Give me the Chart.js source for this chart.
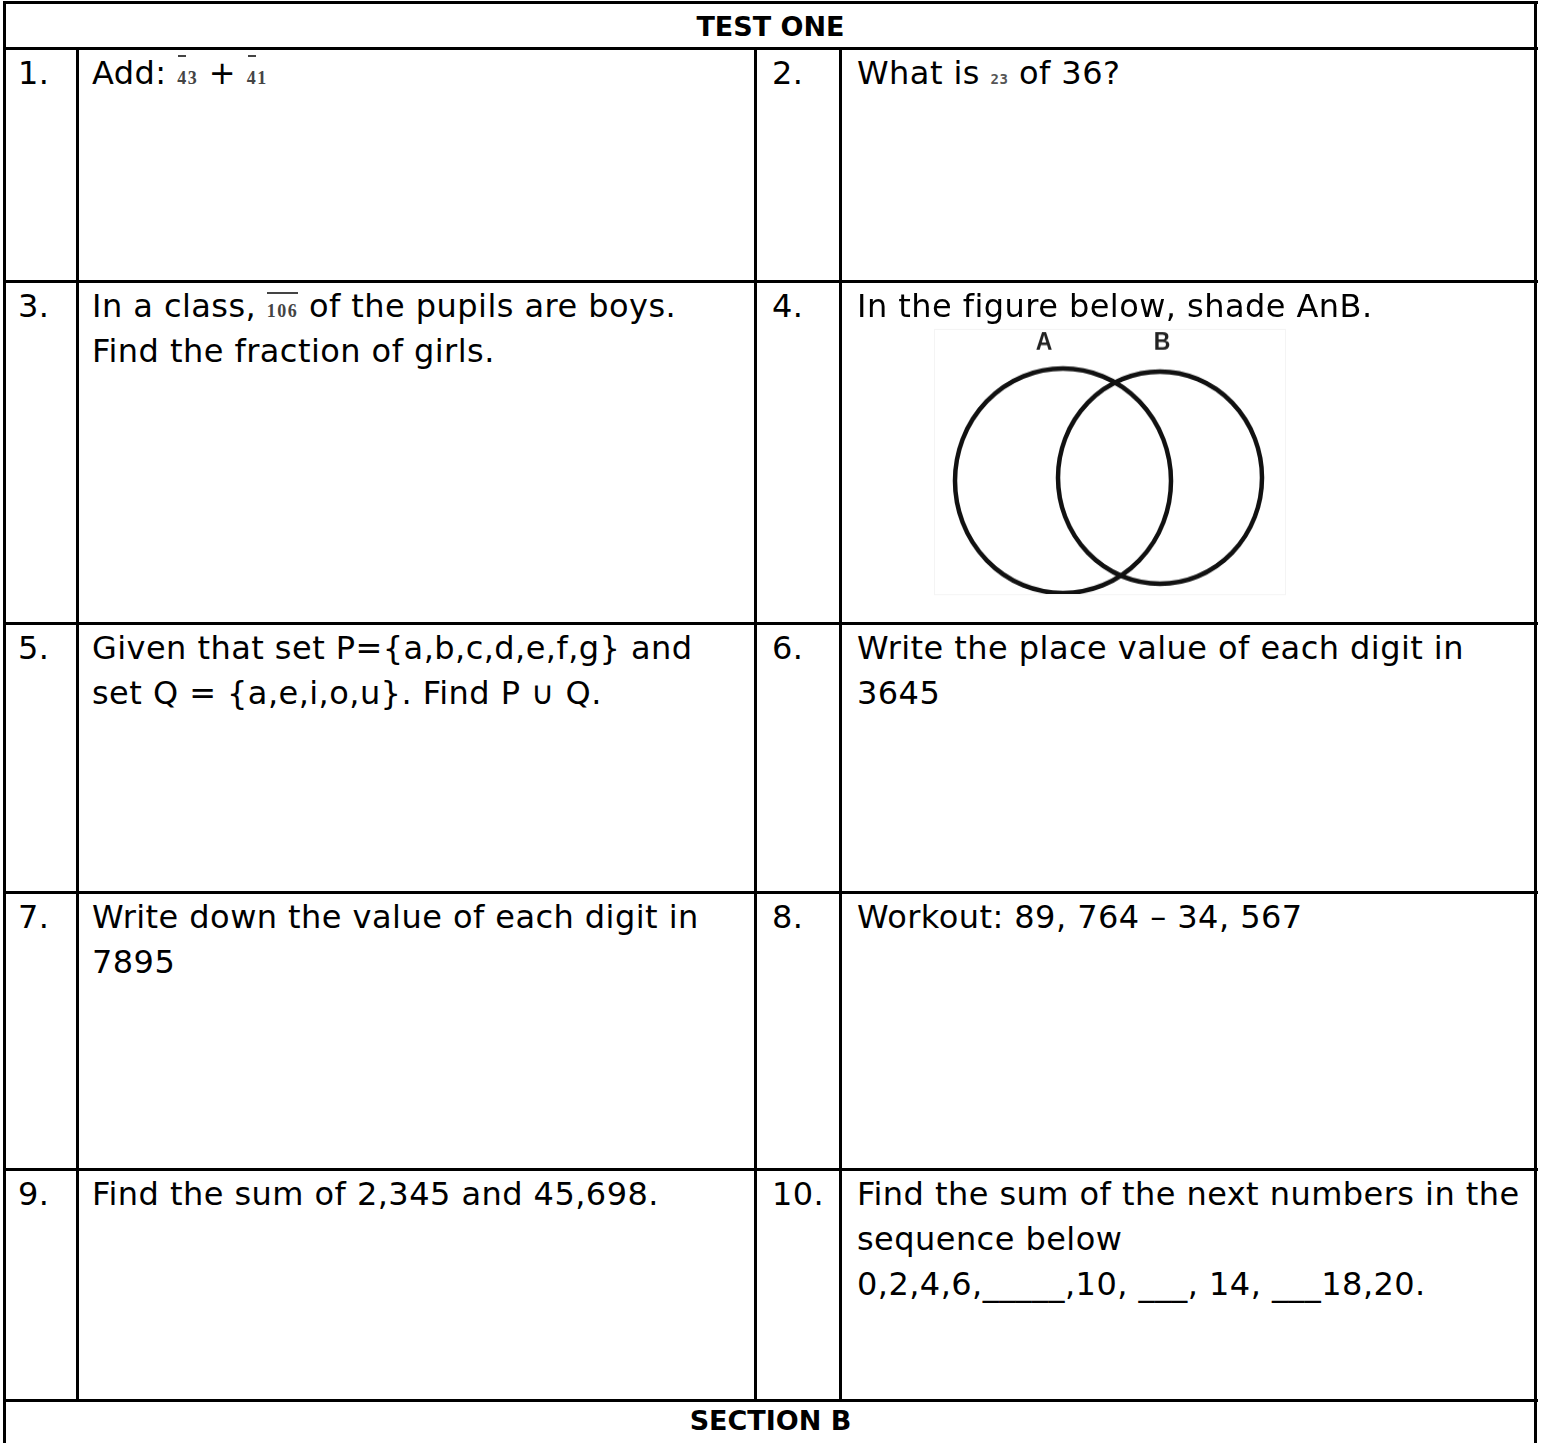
<!DOCTYPE html>
<html>
<head>
<meta charset="utf-8">
<script src="https://cdn.jsdelivr.net/npm/chart.js@4.4.1/dist/chart.umd.min.js"></script>
<style>
  body { margin: 0; background: #fff; width: 1541px; height: 1443px; overflow: hidden; position: relative; font-family: "DejaVu Sans", sans-serif; color: #000; }
  .hl { position: absolute; height: 3px; background: #000; }
  .vl { position: absolute; width: 3px; background: #000; }
  .cell { position: absolute; font-size: 32px; line-height: 45px; letter-spacing: 0.45px; white-space: nowrap; }
  .title { position: absolute; left: 0; width: 1541px; text-align: center; font-weight: bold; font-size: 27px; line-height: 30px; }
  .fr { display: inline-block; position: relative; font-family: "Liberation Serif", serif; font-weight: bold; font-size: 18px; line-height: 18px; color: #444; letter-spacing: 1.5px; }
  .fr i { position: absolute; left: 1px; top: -14px; width: 8px; height: 2px; background: #444; }
  .fr.long i { width: 100%; left: 0; top: -10px; }
  .tiny { font-family: "DejaVu Sans Mono", monospace; font-weight: bold; font-size: 14px; color: #555; }
  #venn { position: absolute; left: 935px; top: 330px; outline: 1px solid #f4f4f4; transform: scaleY(1.04); transform-origin: top left; }
</style>
</head>
<body>
<canvas id="venn" width="350" height="254"></canvas>
<script>
// worksheet text
const numbers = ['1.', '2.', '3.', '4.', '5.', '6.', '7.', '8.', '9.', '10.'];
const questions = [
    'Add: <span class="fr"><i></i>43</span> + <span class="fr"><i></i>41</span>',
    'What is <span class="tiny">23</span> of 36?',
    'In a class, <span class="fr long"><i></i>106</span> of the pupils are boys.<br>Find the fraction of girls.',
    'In the figure below, shade AnB.',
    'Given that set P={a,b,c,d,e,f,g} and<br>set Q = {a,e,i,o,u}. Find P \u222a Q.',
    'Write the place value of each digit in<br>3645',
    'Write down the value of each digit in<br>7895',
    'Workout: 89, 764 \u2013 34, 567',
    'Find the sum of 2,345 and 45,698.',
    'Find the sum of the next numbers in the<br>sequence below<br>0,2,4,6,_____,10, ___, 14, ___18,20.'
];
const headerText = 'TEST ONE';
const footerText = 'SECTION B';

// venn diagram values (axis units)
const setNames = ['A', 'B'];
const setCenterX = [12.8, 22.5];
const setCenterY = [10.9, 11.2];
const setLabelX = [10.9, 22.7];
const setLabelY = 24.1;

// table grid
const rowLines = [2, 48, 281, 623, 892, 1169, 1400];
const colLines = [77, 755, 840];

rowLines.forEach(y => {
    let d = document.createElement('div');
    d.className = 'hl';
    d.style.left = '3px';
    d.style.width = '1535px';
    d.style.top = (y - 1) + 'px';
    document.body.appendChild(d);
});
[4, 1535].forEach(x => {
    let d = document.createElement('div');
    d.className = 'vl';
    d.style.left = (x - 1) + 'px';
    d.style.top = '1px';
    d.style.height = '1442px';
    document.body.appendChild(d);
});
colLines.forEach(x => {
    let d = document.createElement('div');
    d.className = 'vl';
    d.style.left = (x - 1) + 'px';
    d.style.top = rowLines[1] + 'px';
    d.style.height = (rowLines[6] - rowLines[1]) + 'px';
    document.body.appendChild(d);
});

function addText(cls, html, left, top) {
    let d = document.createElement('div');
    d.className = cls;
    d.innerHTML = html;
    if (left !== null) d.style.left = left + 'px';
    d.style.top = top + 'px';
    document.body.appendChild(d);
}

addText('title', headerText, null, 12);
addText('title', footerText, null, 1406);

const numLeft = [18, 772];
const textLeft = [92, 857];
for (let i = 0; i < questions.length; i++) {
    let row = Math.floor(i / 2);
    let side = i % 2;
    let top = rowLines[row + 1] + 3;
    addText('cell', numbers[i], numLeft[side], top);
    addText('cell', questions[i], textLeft[side], top);
}

const vennLabels = {
    id: 'vennLabels',
    afterDatasetsDraw(chart) {
        let ctx = chart.ctx;
        ctx.save();
        ctx.font = 'bold 23px "Liberation Sans", sans-serif';
        ctx.fillStyle = '#222';
        ctx.textAlign = 'center';
        ctx.textBaseline = 'middle';
        setNames.forEach((name, i) => {
            ctx.fillText(name, chart.scales.x.getPixelForValue(setLabelX[i]), chart.scales.y.getPixelForValue(setLabelY));
        });
        ctx.restore();
    }
};

new Chart(document.getElementById('venn').getContext('2d'), {
    type: 'scatter',
    data: {
        datasets: setNames.map((name, i) => ({
            label: name,
            data: [{ x: setCenterX[i], y: setCenterY[i] }],
            pointRadius: i === 0 ? 108 : 102,
            pointBorderWidth: 4.5,
            pointBorderColor: '#111',
            pointBackgroundColor: 'rgba(0,0,0,0)',
            clip: false
        }))
    },
    options: {
        responsive: false,
        animation: false,
        layout: { padding: 0, autoPadding: false },
        plugins: { legend: { display: false }, tooltip: { enabled: false } },
        scales: {
            x: { type: 'linear', min: 0, max: 35, display: false },
            y: { type: 'linear', min: 0, max: 25.4, display: false }
        }
    },
    plugins: [vennLabels]
});
</script>
</body>
</html>
